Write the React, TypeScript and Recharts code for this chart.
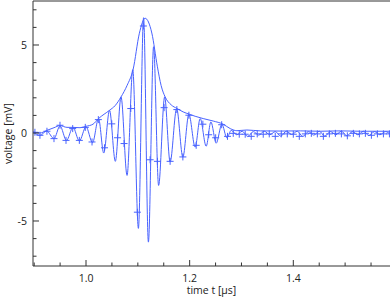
import React from 'react';
import { ComposedChart, Line, Scatter, XAxis, YAxis } from 'recharts';

// oscillating waveform (extrema)
const waveTime = [
  0.8976, 0.9111, 0.9241, 0.9382, 0.9498, 0.9623, 0.9749, 0.9871, 1.0, 1.0126,
  1.0242, 1.0342, 1.0454, 1.0566, 1.0676, 1.0792, 1.0902, 1.1011, 1.1111, 1.1204,
  1.1304, 1.1401, 1.1517, 1.1623, 1.1749, 1.1869, 1.1985, 1.2106, 1.2203, 1.2319,
  1.241, 1.2512, 1.2622, 1.2719, 1.2802, 1.2908, 1.3014, 1.3121, 1.3227, 1.3333,
  1.344, 1.3546, 1.3652, 1.3758, 1.3865, 1.3971, 1.4077, 1.4184, 1.429, 1.4396,
  1.4502, 1.4609, 1.4715, 1.4821, 1.4928, 1.5034, 1.514, 1.5246, 1.5353, 1.5459,
  1.5565, 1.5671, 1.5778, 1.5884,
];
const waveVoltage = [
  0.05, -0.13, 0.11, -0.32, 0.4, -0.42, 0.32, -0.45, 0.35, -0.55,
  0.82, -1.14, 1.29, -1.61, 2.05, -2.41, 3.6, -5.42, 6.55, -6.2,
  4.9, -2.98, 2.05, -1.65, 1.39, -1.37, 1.07, -0.8, 0.82, -0.75,
  0.63, -0.58, 0.5, -0.28, 0.15, -0.1, 0.1, -0.2, 0.08, -0.12,
  0.1, -0.1, 0.08, -0.18, 0.1, -0.08, 0.1, -0.2, 0.08, -0.12,
  0.1, -0.18, 0.08, -0.1, 0.1, -0.16, 0.08, -0.1, 0.1, -0.15,
  0.08, -0.1, 0.08, -0.1,
];

// envelope curve
const envTime = [
  0.8976, 0.9111, 0.9246, 0.9382, 0.9498, 0.9633, 0.9749, 0.9884, 1.0, 1.0135,
  1.0242, 1.0454, 1.056, 1.0676, 1.0792, 1.0908, 1.103, 1.114, 1.127, 1.1378,
  1.1449, 1.1527, 1.1643, 1.1758, 1.1874, 1.199, 1.2106, 1.2261, 1.2454, 1.2647,
  1.2783, 1.2912, 1.3105, 1.3362, 1.3749, 1.4135, 1.4522, 1.4908, 1.5295, 1.5874,
];
const envVoltage = [
  0.06, 0.0, 0.15, 0.3, 0.42, 0.32, 0.32, 0.3, 0.38, 0.5,
  0.82, 1.29, 1.55, 2.05, 2.7, 3.6, 5.67, 6.52, 5.68, 3.76,
  2.7, 2.05, 1.6, 1.39, 1.2, 1.07, 0.95, 0.82, 0.68, 0.5,
  0.25, 0.13, 0.17, 0.12, 0.11, 0.12, 0.1, 0.12, 0.1, 0.1,
];

// sampled points (+ markers)
const sampleTime = [
  0.9014, 0.9111, 0.9246, 0.9382, 0.9498, 0.9614, 0.9743, 0.9871, 0.9986, 1.0116,
  1.0238, 1.0357, 1.0497, 1.0609, 1.0734, 1.0864, 1.0991, 1.1107, 1.1237, 1.1378,
  1.1507, 1.1623, 1.1753, 1.1869, 1.1985, 1.2126, 1.2255, 1.2367, 1.2502, 1.2618,
  1.273, 1.2841, 1.2957, 1.3072, 1.3188, 1.3304, 1.342, 1.3536, 1.3652, 1.3768,
  1.3884, 1.4, 1.4116, 1.4232, 1.4348, 1.4464, 1.458, 1.4696, 1.4812, 1.4928,
  1.5043, 1.5159, 1.5275, 1.5391, 1.5507, 1.5623, 1.5739, 1.5855,
];
const sampleVoltage = [
  0.04, -0.13, 0.1, -0.32, 0.44, -0.42, 0.25, -0.42, 0.32, -0.51,
  0.76, -0.84, 0.52, -0.27, -0.6, 1.39, -4.5, 6.08, -1.52, -1.61,
  1.44, -1.61, 1.33, -1.36, 1.01, -0.7, 0.5, -0.1, -0.27, 0.47,
  -0.19, -0.02, -0.07, -0.07, -0.19, -0.05, -0.07, -0.05, -0.19, -0.05,
  -0.05, -0.07, -0.19, -0.05, -0.02, -0.05, -0.19, -0.05, -0.02, -0.05,
  -0.16, -0.02, -0.05, -0.02, -0.13, -0.05, -0.05, -0.05,
];

const xTicks = [0.9, 0.95, 1.0, 1.05, 1.1, 1.15, 1.2, 1.25, 1.3, 1.35, 1.4, 1.45, 1.5, 1.55];
const yTicks = [-7, -6, -5, -4, -3, -2, -1, 0, 1, 2, 3, 4, 5, 6, 7];

const waveData = waveTime.map((t, i) => ({ t, v: waveVoltage[i] }));
const envData = envTime.map((t, i) => ({ t, v: envVoltage[i] }));
const sampleData = sampleTime.map((t, i) => ({ t, v: sampleVoltage[i] }));

const BLUE = '#4862ff';
const AXIS = '#333';
const FONT = '"Open Sans", sans-serif';
const X_DOMAIN = [0.8977, 1.5866];
const Y_DOMAIN = [-7.557, 7.5];

const isMajorX = (v: number) => Math.abs(v * 5 - Math.round(v * 5)) < 1e-6;
const isMajorY = (v: number) => Math.abs(v / 5 - Math.round(v / 5)) < 1e-6;

const XTick = (props: any) => {
  const { x, y, payload, dir, showLabel } = props;
  const v = payload.value;
  const major = isMajorX(v);
  const len = major ? 6 : 3.5;
  return (
    <g>
      <line x1={x} x2={x} y1={y} y2={y + dir * len} stroke={AXIS} strokeWidth={1} />
      {showLabel && major ? (
        <text x={x} y={y + 15.5} textAnchor="middle" fontSize={10.5} fontFamily={FONT} fill="#222">
          {v.toFixed(1)}
        </text>
      ) : null}
    </g>
  );
};

const YTick = (props: any) => {
  const { x, y, payload, dir, showLabel } = props;
  const v = payload.value;
  const major = isMajorY(v);
  const len = major ? 6 : 3.5;
  return (
    <g>
      <line x1={x} x2={x + dir * len} y1={y} y2={y} stroke={AXIS} strokeWidth={1} />
      {showLabel && major ? (
        <text x={x - 6} y={y} dy="0.36em" textAnchor="end" fontSize={10.5} fontFamily={FONT} fill="#222">
          {String(v)}
        </text>
      ) : null}
    </g>
  );
};

const Plus = (props: any) => {
  const { cx, cy } = props;
  if (cx == null || cy == null) return null;
  return (
    <g>
      <line x1={cx - 3.5} x2={cx + 3.5} y1={cy} y2={cy} stroke={BLUE} strokeWidth={1} />
      <line x1={cx} x2={cx} y1={cy - 3.5} y2={cy + 3.5} stroke={BLUE} strokeWidth={1} />
    </g>
  );
};

export default function App() {
  return (
    <div style={{ position: 'absolute', left: 0, top: 0, width: 391, height: 299, background: '#fff' }}>
      <ComposedChart width={391} height={299} margin={{ top: 0, right: 1, bottom: 0, left: 0 }}>
        <XAxis
          xAxisId="x"
          dataKey="t"
          type="number"
          domain={X_DOMAIN}
          allowDataOverflow
          ticks={xTicks}
          interval={0}
          height={33}
          tickSize={0}
          tickMargin={0}
          tickLine={false}
          axisLine={{ stroke: AXIS, strokeWidth: 1 }}
          tick={(p: any) => <XTick {...p} dir={-1} showLabel />}
          label={{ value: 'time t [µs]', position: 'insideBottom', offset: 5, fontSize: 10.5, fontFamily: FONT, fill: '#222' }}
        />
        <XAxis
          xAxisId="xt"
          orientation="top"
          type="number"
          domain={X_DOMAIN}
          allowDataOverflow
          ticks={xTicks}
          interval={0}
          height={1}
          tickSize={0}
          tickMargin={0}
          tickLine={false}
          axisLine={{ stroke: AXIS, strokeWidth: 1 }}
          tick={(p: any) => <XTick {...p} dir={1} showLabel={false} />}
        />
        <YAxis
          yAxisId="y"
          dataKey="v"
          type="number"
          domain={Y_DOMAIN}
          allowDataOverflow
          ticks={yTicks}
          interval={0}
          width={33}
          tickSize={0}
          tickMargin={0}
          tickLine={false}
          axisLine={{ stroke: AXIS, strokeWidth: 1 }}
          tick={(p: any) => <YTick {...p} dir={1} showLabel />}
          label={{ value: 'voltage [mV]', angle: -90, position: 'insideLeft', offset: 8, fontSize: 10.5, fontFamily: FONT, fill: '#222', style: { textAnchor: 'middle' } }}
        />
        <YAxis
          yAxisId="yr"
          orientation="right"
          type="number"
          domain={Y_DOMAIN}
          allowDataOverflow
          ticks={yTicks}
          interval={0}
          width={0}
          tickSize={0}
          tickMargin={0}
          tickLine={false}
          axisLine={{ stroke: AXIS, strokeWidth: 1 }}
          tick={(p: any) => <YTick {...p} dir={-1} showLabel={false} />}
        />
        <Line
          xAxisId="x"
          yAxisId="y"
          data={envData}
          dataKey="v"
          type="monotone"
          stroke={BLUE}
          strokeWidth={1}
          dot={false}
          activeDot={false}
          isAnimationActive={false}
        />
        <Line
          xAxisId="x"
          yAxisId="y"
          data={waveData}
          dataKey="v"
          type="monotone"
          stroke={BLUE}
          strokeWidth={1}
          dot={false}
          activeDot={false}
          isAnimationActive={false}
        />
        <Scatter
          xAxisId="x"
          yAxisId="y"
          data={sampleData}
          dataKey="v"
          shape={<Plus />}
          isAnimationActive={false}
        />
      </ComposedChart>
    </div>
  );
}
